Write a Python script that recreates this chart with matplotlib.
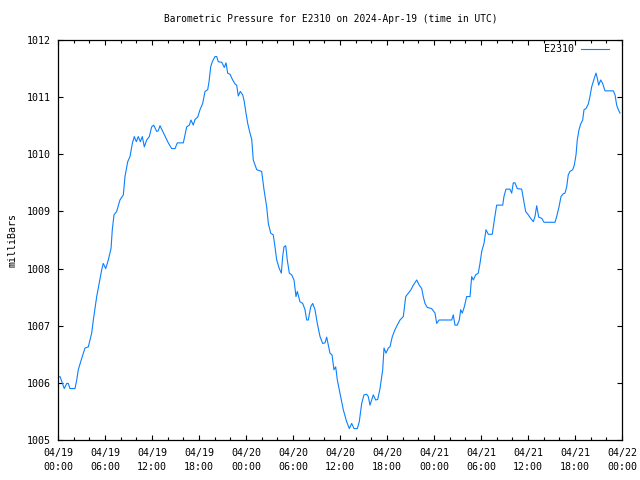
import matplotlib
matplotlib.use("Agg")
import matplotlib.pyplot as plt
import numpy as np

# hours since 2024-04-19 00:00 UTC
hours = [0.0, 0.26, 0.80, 1.11, 1.31, 1.53, 2.17, 2.39, 2.59, 3.03, 3.45, 3.87, 4.30, 4.51, 4.94, 5.14,
         5.58, 5.78, 6.09, 6.42, 6.77, 6.93, 7.15, 7.49, 7.91, 8.34, 8.55, 8.90, 9.19, 9.49, 9.74, 10.0,
         10.25, 10.51, 10.76, 11.02, 11.32, 11.66, 11.96, 12.22, 12.60, 12.80, 13.02, 13.37, 13.66, 14.08,
         14.51, 14.94, 15.23, 16.0, 16.43, 16.76, 16.98, 17.27, 17.49, 17.83, 18.13, 18.47, 18.77, 19.11,
         19.28, 19.49, 19.70, 20.04, 20.26, 20.46, 20.90, 21.23, 21.45, 21.66, 21.96, 22.30, 22.60, 22.81,
         23.02, 23.27, 23.58, 23.78, 24.0, 24.22, 24.51, 24.73, 24.93, 25.37, 26.0, 26.30, 26.64, 26.85,
         27.15, 27.48, 27.70, 27.92, 28.25, 28.51, 28.68, 28.85, 29.07, 29.27, 29.53, 29.83, 30.13, 30.38,
         30.55, 30.89, 31.24, 31.53, 31.75, 31.95, 32.26, 32.51, 32.81, 33.10, 33.45, 33.79, 34.09, 34.30,
         34.51, 34.72, 34.98, 35.23, 35.45, 35.66, 36.0, 36.42, 36.85, 37.19, 37.49, 37.79, 38.21, 38.46,
         38.77, 39.06, 39.41, 39.61, 39.83, 40.25, 40.56, 40.81, 41.11, 41.45, 41.62, 41.87, 42.17, 42.38,
         42.68, 43.02, 43.31, 43.66, 44.08, 44.39, 44.72, 45.06, 45.36, 45.79, 46.12, 46.43, 46.63, 46.85,
         47.14, 47.70, 48.13, 48.34, 48.64, 50.26, 50.46, 50.68, 50.97, 51.23, 51.41, 51.61, 51.87, 52.17,
         52.60, 52.81, 53.02, 53.32, 53.65, 53.87, 54.09, 54.38, 54.64, 54.93, 55.44, 55.70, 56.0, 56.77,
         56.93, 57.19, 57.70, 57.92, 58.12, 58.34, 58.63, 59.19, 59.40, 59.70, 60.04, 60.34, 60.68, 60.89,
         61.11, 61.37, 61.75, 62.04, 63.45, 63.66, 63.96, 64.21, 64.51, 64.72, 64.94, 65.14, 65.36, 65.71,
         65.91, 66.13, 66.29, 66.51, 66.73, 66.98, 67.15, 67.40, 67.70, 67.91, 68.13, 68.46, 68.68, 68.85,
         69.02, 69.28, 69.53, 69.83, 70.89, 71.11, 71.32, 71.53, 71.75]

pressure = [1006.10, 1006.11, 1005.90, 1005.99, 1005.99, 1005.90, 1005.90, 1006.05, 1006.23, 1006.43, 1006.61,
            1006.63, 1006.87, 1007.10, 1007.51, 1007.66, 1007.98, 1008.09, 1008.00, 1008.15, 1008.35, 1008.68,
            1008.94, 1009.00, 1009.20, 1009.29, 1009.61, 1009.87, 1009.96, 1010.19, 1010.31, 1010.22, 1010.31,
            1010.22, 1010.31, 1010.13, 1010.25, 1010.31, 1010.48, 1010.51, 1010.40, 1010.41, 1010.50, 1010.40,
            1010.32, 1010.20, 1010.10, 1010.10, 1010.20, 1010.20, 1010.48, 1010.51, 1010.60, 1010.51, 1010.61,
            1010.65, 1010.78, 1010.89, 1011.10, 1011.13, 1011.27, 1011.53, 1011.62, 1011.71, 1011.71, 1011.62,
            1011.61, 1011.52, 1011.60, 1011.42, 1011.40, 1011.30, 1011.23, 1011.21, 1011.02, 1011.10, 1011.04,
            1010.92, 1010.72, 1010.54, 1010.37, 1010.26, 1009.90, 1009.73, 1009.70, 1009.38, 1009.08, 1008.79,
            1008.62, 1008.59, 1008.38, 1008.15, 1008.00, 1007.92, 1008.21, 1008.38, 1008.40, 1008.15, 1007.92,
            1007.89, 1007.80, 1007.51, 1007.60, 1007.42, 1007.39, 1007.28, 1007.10, 1007.10, 1007.33, 1007.39,
            1007.28, 1007.04, 1006.81, 1006.69, 1006.70, 1006.80, 1006.66, 1006.52, 1006.49, 1006.23, 1006.28,
            1006.05, 1005.82, 1005.53, 1005.32, 1005.20, 1005.29, 1005.20, 1005.20, 1005.32, 1005.64, 1005.79,
            1005.80, 1005.76, 1005.61, 1005.79, 1005.70, 1005.71, 1005.90, 1006.23, 1006.61, 1006.52, 1006.61,
            1006.63, 1006.81, 1006.93, 1007.01, 1007.10, 1007.16, 1007.51, 1007.57, 1007.63, 1007.71, 1007.80,
            1007.71, 1007.65, 1007.51, 1007.39, 1007.32, 1007.30, 1007.22, 1007.04, 1007.10, 1007.10, 1007.19,
            1007.01, 1007.01, 1007.10, 1007.28, 1007.22, 1007.33, 1007.51, 1007.51, 1007.86, 1007.80, 1007.89,
            1007.92, 1008.09, 1008.30, 1008.44, 1008.68, 1008.60, 1008.60, 1008.85, 1009.11, 1009.11, 1009.26,
            1009.39, 1009.39, 1009.32, 1009.50, 1009.50, 1009.40, 1009.39, 1009.23, 1009.00, 1008.94, 1008.88,
            1008.82, 1008.91, 1009.10, 1008.90, 1008.88, 1008.81, 1008.81, 1008.91, 1009.08, 1009.26, 1009.31,
            1009.32, 1009.43, 1009.64, 1009.70, 1009.73, 1009.81, 1009.99, 1010.25, 1010.43, 1010.53, 1010.60,
            1010.78, 1010.80, 1010.88, 1011.01, 1011.18, 1011.33, 1011.42, 1011.33, 1011.21, 1011.30, 1011.24,
            1011.11, 1011.11, 1011.04, 1010.86, 1010.78, 1010.72]

xtick_hours = [0, 6, 12, 18, 24, 30, 36, 42, 48, 54, 60, 66, 72]
xtick_labels = ["04/19\n00:00", "04/19\n06:00", "04/19\n12:00", "04/19\n18:00",
                "04/20\n00:00", "04/20\n06:00", "04/20\n12:00", "04/20\n18:00",
                "04/21\n00:00", "04/21\n06:00", "04/21\n12:00", "04/21\n18:00",
                "04/22\n00:00"]
ytick_values = [1005, 1006, 1007, 1008, 1009, 1010, 1011, 1012]

plt.rcParams['font.family'] = ['DejaVu Sans Mono']
fs = 7.2

fig = plt.figure(figsize=(6.4, 4.8), dpi=100)
ax = fig.add_axes([58/640, 40/480, 564/640, 400/480])
ax.plot(hours, pressure, color='#0a80ff', linewidth=0.8, label='E2310')
ax.set_xlim(0, 72)
ax.set_ylim(1005, 1012)
ax.set_xticks(xtick_hours)
ax.set_xticklabels(xtick_labels, fontsize=fs, linespacing=1.4)
ax.set_xticks(np.arange(0, 73, 2), minor=True)
ax.set_yticks(ytick_values)
ax.set_yticklabels([str(v) for v in ytick_values], fontsize=fs)
ax.tick_params(which='both', direction='in', top=True, right=True, width=0.8, color='black')
ax.tick_params(which='major', length=3.5)
ax.tick_params(axis='x', which='major', pad=6)
ax.tick_params(axis='y', which='major', pad=5)
ax.tick_params(which='minor', length=2.5)
for s in ax.spines.values():
    s.set_linewidth(0.9)
ax.set_ylabel('milliBars', fontsize=fs, labelpad=7)
fig.text(331/640, 1 - 19/480, 'Barometric Pressure for E2310 on 2024-Apr-19 (time in UTC)',
         ha='center', va='center', fontsize=6.85)
leg = ax.legend(loc='upper right', frameon=False, markerfirst=False, fontsize=fs,
                handlelength=2.8, handletextpad=0.7, borderaxespad=0.0,
                bbox_to_anchor=(0.984, 0.999))
fig.savefig('out.png', dpi=100)
